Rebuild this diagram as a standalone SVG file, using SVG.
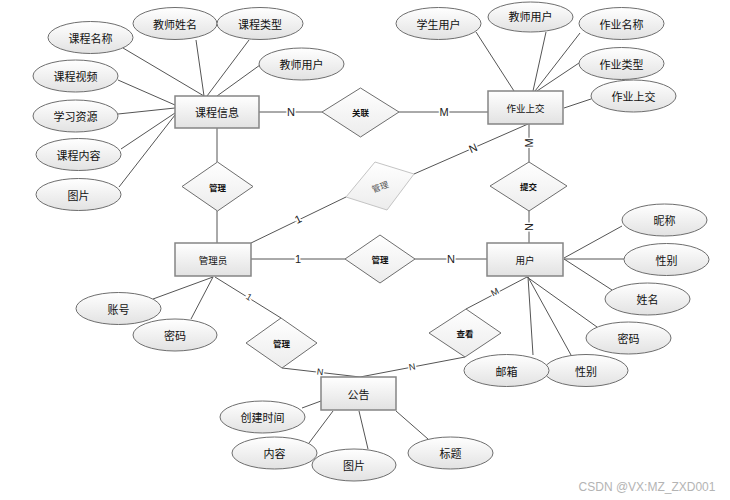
<svg xmlns="http://www.w3.org/2000/svg" width="730" height="500" viewBox="0 0 730 500">
<defs>
<linearGradient id="g" x1="0" y1="0" x2="0" y2="1">
<stop offset="0" stop-color="#ffffff"/>
<stop offset="1" stop-color="#e2e2e2"/>
</linearGradient>
<linearGradient id="g2" x1="0" y1="0" x2="0" y2="1">
<stop offset="0" stop-color="#ffffff"/>
<stop offset="1" stop-color="#ececec"/>
</linearGradient>
</defs>
<style>
.ent{fill:url(#g);stroke:#858585;stroke-width:1.5}
.att{fill:url(#g);stroke:#6e6e6e;stroke-width:1}
.rel{fill:url(#g2);stroke:#6e6e6e;stroke-width:1}
.faint{fill:url(#g2);stroke:#c4c4c4;stroke-width:1}
.cn line{stroke:#555;stroke-width:1}
text{font-family:"Noto Sans CJK SC","Liberation Sans",sans-serif;fill:#111;text-anchor:middle;dominant-baseline:central}
.a{font-size:11px}
.e{font-size:11px}
.es{font-size:9.5px}
.r{font-size:8.5px;font-weight:bold}
.lb{font-family:"Liberation Sans",sans-serif;font-size:11px;stroke:#fff;stroke-width:3px;paint-order:stroke;fill:#222}
.lbs{font-family:"Liberation Sans",sans-serif;font-size:9px;stroke:#fff;stroke-width:3px;paint-order:stroke;fill:#222}
</style>
<rect width="730" height="500" fill="#fff"/>
<g id="connectors" class="cn">
<line x1="123" y1="48" x2="204" y2="96"/>
<line x1="196" y1="40" x2="204" y2="96"/>
<line x1="249" y1="40" x2="207" y2="96"/>
<line x1="260" y1="65" x2="217" y2="96"/>
<line x1="118" y1="80" x2="175" y2="105"/>
<line x1="118" y1="114" x2="175" y2="108"/>
<line x1="121" y1="149" x2="175" y2="113"/>
<line x1="119" y1="187" x2="175" y2="115"/>
<line x1="476" y1="32" x2="514" y2="91"/>
<line x1="546" y1="32" x2="533" y2="91"/>
<line x1="580" y1="33" x2="535" y2="91"/>
<line x1="579" y1="63" x2="537" y2="91"/>
<line x1="591" y1="99" x2="564" y2="108"/>
<line x1="622" y1="226" x2="564" y2="258"/>
<line x1="624" y1="259" x2="564" y2="259"/>
<line x1="612" y1="290" x2="564" y2="259"/>
<line x1="597" y1="327" x2="527" y2="277"/>
<line x1="533" y1="355" x2="528" y2="277"/>
<line x1="571" y1="355" x2="528" y2="277"/>
<line x1="153" y1="299" x2="213" y2="277"/>
<line x1="191" y1="319" x2="213" y2="277"/>
<line x1="302" y1="408" x2="321" y2="401"/>
<line x1="309" y1="443" x2="333" y2="411"/>
<line x1="368" y1="449" x2="359" y2="411"/>
<line x1="428" y1="439" x2="396" y2="411"/>
<line x1="259" y1="112" x2="322" y2="112"/>
<line x1="399" y1="112" x2="488" y2="112"/>
<line x1="217" y1="128" x2="217" y2="162"/>
<line x1="217" y1="211" x2="217" y2="243"/>
<line x1="251" y1="243" x2="346" y2="197"/>
<line x1="414" y1="174" x2="528" y2="124"/>
<line x1="529" y1="124" x2="529" y2="162"/>
<line x1="529" y1="211" x2="529" y2="243"/>
<line x1="251" y1="259" x2="345" y2="259"/>
<line x1="415" y1="259" x2="487" y2="259"/>
<line x1="215" y1="277" x2="281" y2="318"/>
<line x1="282" y1="368" x2="360" y2="377"/>
<line x1="465" y1="357" x2="360" y2="377"/>
<line x1="466" y1="309" x2="527" y2="277"/>
<text class="lb" x="291" y="112">N</text>
<text class="lb" x="444" y="112">M</text>
<text class="lb" x="298" y="219" transform="rotate(-26 298 219)">1</text>
<text class="lb" x="473" y="148" transform="rotate(-24 473 148)">N</text>
<text class="lb" x="529" y="143" transform="rotate(-90 529 143)">M</text>
<text class="lb" x="529" y="227" transform="rotate(-90 529 227)">N</text>
<text class="lb" x="298" y="259">1</text>
<text class="lb" x="451" y="259">N</text>
<text class="lbs" x="249" y="297" transform="rotate(32 249 297)">1</text>
<text class="lbs" x="320" y="372" transform="rotate(7 320 372)">N</text>
<text class="lbs" x="412" y="367" transform="rotate(-11 412 367)">N</text>
<text class="lbs" x="495" y="292" transform="rotate(-28 495 292)">M</text>
</g>
<g id="kechengxinxi"><rect class="ent" x="175" y="96" width="84" height="32"/><text class="e" x="217" y="112">课程信息</text></g>
<g id="zuoyeshangjiao"><rect class="ent" x="488" y="91" width="75" height="33"/><text class="es" x="525.5" y="107.5">作业上交</text></g>
<g id="guanliyuan"><rect class="ent" x="175" y="243" width="76" height="33"/><text class="es" x="213" y="259.5">管理员</text></g>
<g id="yonghu"><rect class="ent" x="487" y="243" width="76" height="33"/><text class="es" x="525" y="259.5">用户</text></g>
<g id="gonggao"><rect class="ent" x="321" y="377" width="75" height="33"/><text class="e" x="358.5" y="393.5">公告</text></g>
<g id="rel-guanlian"><polygon class="rel" points="322,112 360.5,88 399,112 360.5,137"/><text class="r" x="360.5" y="112">关联</text></g>
<g id="rel-guanli1"><polygon class="rel" points="182,186.5 217.5,162 253,186.5 217.5,211"/><text class="r" x="217.5" y="186.5">管理</text></g>
<g id="rel-guanli2"><polygon class="faint" points="375,162 414,174 387,210 346,197"/><text class="r" x="380" y="186" fill="#555" style="fill:#555;font-weight:normal" transform="rotate(-20 380 186)">管理</text></g>
<g id="rel-tijiao"><polygon class="rel" points="490,186 529,162 567,186 529,211"/><text class="r" x="528.5" y="186">提交</text></g>
<g id="rel-guanli3"><polygon class="rel" points="345,259 380,235 415,259 380,283"/><text class="r" x="380" y="259">管理</text></g>
<g id="rel-guanli4"><polygon class="rel" points="246,343 281,318 317,343 282,368"/><text class="r" x="281.5" y="343">管理</text></g>
<g id="rel-chakan"><polygon class="rel" points="429,333 466,309 501,333 465,357"/><text class="r" x="465" y="333">查看</text></g>
<g id="a1"><ellipse class="att" cx="90.5" cy="37.5" rx="42.5" ry="16"/><text class="a" x="90.5" y="37.5">课程名称</text></g>
<g id="a2"><ellipse class="att" cx="175" cy="23.5" rx="42" ry="16"/><text class="a" x="175" y="23.5">教师姓名</text></g>
<g id="a3"><ellipse class="att" cx="260" cy="23.5" rx="43" ry="16"/><text class="a" x="260" y="23.5">课程类型</text></g>
<g id="a4"><ellipse class="att" cx="301.5" cy="64" rx="42.5" ry="16"/><text class="a" x="301.5" y="64">教师用户</text></g>
<g id="a5"><ellipse class="att" cx="75.5" cy="76" rx="42.5" ry="16"/><text class="a" x="75.5" y="76">课程视频</text></g>
<g id="a6"><ellipse class="att" cx="75.5" cy="116" rx="42.5" ry="16"/><text class="a" x="75.5" y="116">学习资源</text></g>
<g id="a7"><ellipse class="att" cx="78.5" cy="154.5" rx="42.5" ry="16"/><text class="a" x="78.5" y="154.5">课程内容</text></g>
<g id="a8"><ellipse class="att" cx="78.5" cy="194.5" rx="42.5" ry="16"/><text class="a" x="78.5" y="194.5">图片</text></g>
<g id="a9"><ellipse class="att" cx="438.5" cy="23.5" rx="42.5" ry="16"/><text class="a" x="438.5" y="23.5">学生用户</text></g>
<g id="a10"><ellipse class="att" cx="530.5" cy="17" rx="42.5" ry="15"/><text class="a" x="530.5" y="16">教师用户</text></g>
<g id="a11"><ellipse class="att" cx="621.5" cy="23.5" rx="42.5" ry="16"/><text class="a" x="621.5" y="23.5">作业名称</text></g>
<g id="a12"><ellipse class="att" cx="621.5" cy="63.5" rx="42.5" ry="16"/><text class="a" x="621.5" y="63.5">作业类型</text></g>
<g id="a13"><ellipse class="att" cx="633.5" cy="96" rx="42.5" ry="16"/><text class="a" x="633.5" y="96">作业上交</text></g>
<g id="a14"><ellipse class="att" cx="664.5" cy="220" rx="42.5" ry="16"/><text class="a" x="664.5" y="220">昵称</text></g>
<g id="a15"><ellipse class="att" cx="666.5" cy="259.5" rx="42.5" ry="16"/><text class="a" x="666.5" y="259.5">性别</text></g>
<g id="a16"><ellipse class="att" cx="647.5" cy="299" rx="42.5" ry="16"/><text class="a" x="647.5" y="299">姓名</text></g>
<g id="a17"><ellipse class="att" cx="628.5" cy="338" rx="42.5" ry="16"/><text class="a" x="628.5" y="338">密码</text></g>
<g id="a19"><ellipse class="att" cx="586" cy="370.5" rx="42" ry="16"/><text class="a" x="586" y="370.5">性别</text></g>
<g id="a18"><ellipse class="att" cx="506.5" cy="370.5" rx="42.5" ry="16"/><text class="a" x="506.5" y="370.5">邮箱</text></g>
<g id="a20"><ellipse class="att" cx="118.5" cy="308.5" rx="42.5" ry="16"/><text class="a" x="118.5" y="308.5">账号</text></g>
<g id="a21"><ellipse class="att" cx="175" cy="335" rx="42" ry="16"/><text class="a" x="175" y="335">密码</text></g>
<g id="a22"><ellipse class="att" cx="262.5" cy="417" rx="42.5" ry="16"/><text class="a" x="262.5" y="417">创建时间</text></g>
<g id="a23"><ellipse class="att" cx="274.5" cy="453" rx="42.5" ry="16"/><text class="a" x="274.5" y="453">内容</text></g>
<g id="a24"><ellipse class="att" cx="354" cy="465" rx="42" ry="16"/><text class="a" x="354" y="465">图片</text></g>
<g id="a25"><ellipse class="att" cx="450.5" cy="453" rx="42.5" ry="16"/><text class="a" x="450.5" y="453">标题</text></g>
<text x="647" y="487" style="font-family:'Liberation Sans',sans-serif;font-size:12px;fill:#b4b4b4">CSDN @VX:MZ_ZXD001</text>
</svg>
